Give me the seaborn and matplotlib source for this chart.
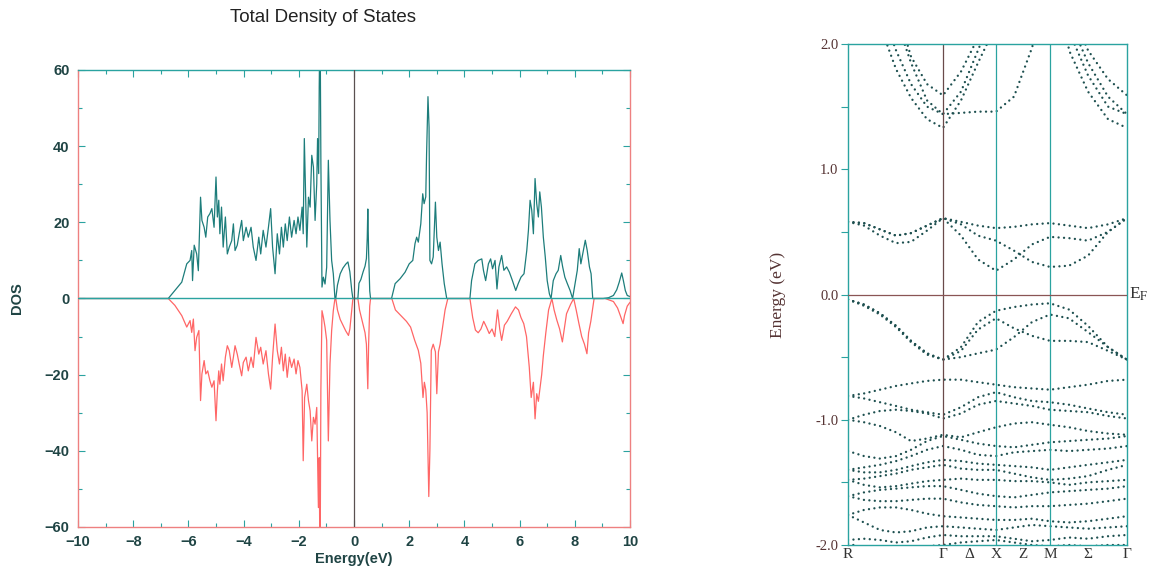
import numpy as np
import pandas as pd
import matplotlib
matplotlib.use("Agg")
import matplotlib.pyplot as plt
import seaborn as sns
from matplotlib.ticker import MultipleLocator, FixedLocator

# ---------------- DOS data (spin up, positive) ----------------
e_up = [-10.0, -6.73, -6.49, -6.24, -6.06, -5.94, -5.88, -5.85, -5.79, -5.70, -5.64, -5.56, -5.51, -5.43,
        -5.37, -5.30, -5.22, -5.15, -5.07, -5.00, -4.95, -4.90, -4.86, -4.80, -4.74, -4.66, -4.59, -4.52,
        -4.43, -4.37, -4.31, -4.23, -4.16, -4.07, -4.01, -3.91, -3.83, -3.73, -3.65, -3.55, -3.45, -3.38,
        -3.29, -3.19, -3.10, -3.02, -2.95, -2.86, -2.78, -2.70, -2.63, -2.56, -2.49, -2.42, -2.34, -2.26,
        -2.17, -2.10, -2.03, -1.96, -1.88, -1.84, -1.80, -1.75, -1.71, -1.65, -1.59, -1.53, -1.47, -1.41,
        -1.35, -1.32, -1.28, -1.26, -1.23, -1.20, -1.16, -1.11, -1.05, -0.99, -0.93, -0.87, -0.81, -0.75,
        -0.69, -0.66, -0.60, -0.50, -0.40, -0.30, -0.22, -0.15, -0.08, -0.04, 0.14, 0.18, 0.25, 0.33,
        0.40, 0.45, 0.48, 0.50, 0.53, 0.57, 0.60, 1.36, 1.49, 1.67, 1.85, 2.00, 2.13, 2.21, 2.27, 2.33,
        2.42, 2.49, 2.54, 2.60, 2.63, 2.68, 2.72, 2.75, 2.81, 2.87, 2.95, 3.00, 3.06, 3.12, 3.19, 3.27,
        3.36, 4.20, 4.26, 4.38, 4.50, 4.63, 4.69, 4.77, 4.87, 4.95, 5.02, 5.11, 5.18, 5.25, 5.35, 5.43,
        5.53, 5.63, 5.74, 5.86, 5.95, 6.05, 6.16, 6.26, 6.32, 6.38, 6.44, 6.50, 6.56, 6.62, 6.68, 6.73,
        6.79, 6.86, 6.93, 7.00, 7.08, 7.14, 7.22, 7.32, 7.40, 7.49, 7.56, 7.64, 7.73, 7.83, 7.92, 8.01,
        8.09, 8.16, 8.22, 8.31, 8.38, 8.45, 8.53, 8.59, 8.65, 9.03, 9.22, 9.40, 9.52, 9.61, 9.70, 9.76,
        9.83, 9.90, 10.0]
dos_up = [0, 0, 2.1, 4.3, 9.1, 10.0, 12.6, 4.7, 14.0, 11.7, 7.3, 26.6, 20.5, 18.7,
          16.1, 21.4, 22.3, 23.6, 18.7, 31.9, 21.4, 25.8, 17.0, 24.0, 13.5, 21.4, 11.7, 13.5,
          15.2, 19.6, 12.6, 14.0, 17.0, 20.5, 15.2, 18.7, 16.1, 18.7, 13.5, 10.0, 16.1, 11.7,
          17.9, 13.5, 18.7, 23.6, 13.5, 6.5, 17.0, 11.7, 18.7, 13.5, 19.6, 15.2, 21.4, 16.1,
          20.5, 17.0, 21.4, 17.9, 24.0, 17.0, 42.0, 25.8, 13.5, 26.6, 24.0, 37.6, 34.5, 20.5,
          30.1, 42.0, 32.8, 55.6, 75.0, 36.0, 3.0, 5.6, 3.8, 8.2, 36.3, 20.5, 10.0, 6.5,
          0, 0, 3.5, 6.5, 8.0, 9.0, 9.6, 7.0, 2.0, 0, 0, 4.0, 5.0, 7.0,
          8.5, 10.5, 16.0, 23.5, 12.0, 2.0, 0, 0, 3.9, 5.2, 6.9, 9.1, 10.0, 14.4, 16.1, 14.8,
          19.6, 27.5, 24.9, 26.7, 38.0, 53.0, 45.0, 10.0, 9.1, 10.9, 25.3, 16.1, 12.6, 14.8, 9.1, 3.9,
          0, 0, 4.7, 9.1, 10.0, 10.4, 7.4, 4.7, 9.1, 10.4, 7.8, 10.0, 2.5, 8.3, 11.3, 7.4,
          8.3, 6.9, 4.7, 2.1, 3.9, 5.6, 6.5, 12.6, 17.9, 25.8, 23.2, 17.0, 31.5, 24.9, 21.4, 28.0,
          24.0, 16.1, 10.9, 4.7, 1.2, 0, 4.7, 6.5, 7.4, 11.3, 8.3, 5.6, 3.9, 2.1, 0, 3.9,
          7.4, 13.1, 9.1, 12.6, 15.3, 12.6, 8.3, 6.5, 0, 0, 0.2, 0.8, 2.3, 4.3, 6.7, 4.7,
          2.1, 0.8, 0.5]

# ---------------- DOS data (spin down, negative) ----------------
e_dn = [-10.0, -6.73, -6.49, -6.24, -6.06, -5.94, -5.88, -5.82, -5.76, -5.70, -5.62, -5.56, -5.51, -5.43,
        -5.37, -5.30, -5.22, -5.15, -5.07, -5.00, -4.95, -4.90, -4.86, -4.80, -4.74, -4.66, -4.59, -4.52,
        -4.43, -4.37, -4.31, -4.23, -4.16, -4.07, -4.01, -3.91, -3.83, -3.73, -3.65, -3.55, -3.45, -3.38,
        -3.29, -3.19, -3.10, -3.02, -2.95, -2.86, -2.78, -2.70, -2.63, -2.56, -2.49, -2.42, -2.34, -2.26,
        -2.17, -2.10, -2.03, -1.96, -1.88, -1.84, -1.79, -1.71, -1.65, -1.59, -1.53, -1.47, -1.41, -1.35,
        -1.29, -1.26, -1.23, -1.20, -1.16, -1.11, -1.05, -0.99, -0.93, -0.87, -0.81, -0.75, -0.69,
        -0.66, -0.60, -0.50, -0.40, -0.30, -0.20, -0.15, -0.08, -0.04, 0.14, 0.20, 0.30, 0.40, 0.45,
        0.50, 0.53, 0.57, 0.60, 1.37, 1.50, 1.70, 1.90, 2.05, 2.20, 2.33, 2.42, 2.50, 2.55, 2.60, 2.65,
        2.71, 2.75, 2.80, 2.87, 2.95, 3.00, 3.06, 3.12, 3.20, 3.30, 3.40, 4.20, 4.30, 4.40, 4.50, 4.60,
        4.70, 4.80, 4.90, 5.00, 5.10, 5.20, 5.28, 5.35, 5.45, 5.55, 5.70, 5.85, 5.96, 6.05, 6.15, 6.25,
        6.35, 6.42, 6.50, 6.56, 6.62, 6.68, 6.73, 6.80, 6.86, 6.95, 7.05, 7.17, 7.25, 7.35, 7.45, 7.55,
        7.62, 7.70, 7.85, 7.96, 8.05, 8.15, 8.25, 8.35, 8.44, 8.50, 8.58, 8.70, 9.10, 9.40, 9.55, 9.65,
        9.75, 9.80, 9.90, 10.0]
dos_dn = [0, 0, -1.8, -4.5, -7.5, -5.8, -8.9, -5.4, -13.7, -10.2, -8.4, -26.8, -19.8, -16.3,
          -19.8, -19.0, -21.6, -23.3, -21.6, -32.1, -24.2, -19.0, -22.5, -17.2, -21.6, -15.4, -12.4, -13.7,
          -18.1, -15.4, -12.4, -14.6, -17.2, -20.3, -16.8, -15.4, -19.0, -15.4, -18.1, -10.2, -14.6, -12.8,
          -17.2, -13.7, -19.8, -23.8, -15.4, -6.7, -13.7, -17.2, -12.8, -19.0, -14.6, -20.7, -15.4, -18.1,
          -15.9, -19.8, -16.3, -18.1, -24.2, -42.6, -26.0, -22.5, -26.8, -29.5, -37.4, -31.2, -33.0, -28.6,
          -54.9, -41.8, -75.0, -24.0, -3.2, -4.9, -7.5, -11.0, -37.4, -17.2, -8.4, -3.2, 0,
          0, -3.0, -5.5, -7.0, -8.5, -9.7, -8.0, -3.0, 0, 0, -3.0, -6.0, -9.0, -12.0,
          -23.7, -12.0, -2.0, 0, 0, -3.0, -4.5, -6.0, -7.5, -11.0, -13.6, -17.0, -26.0, -22.0, -24.0, -30.0,
          -52.0, -40.0, -13.6, -12.0, -14.0, -25.0, -14.0, -12.0, -8.0, -3.0, 0, 0, -5.0, -8.3, -9.0, -8.0,
          -6.0, -7.5, -9.2, -8.0, -10.0, -3.0, -8.0, -11.0, -7.0, -6.0, -4.0, -2.2, -3.0, -5.0, -6.6, -10.0,
          -18.0, -26.0, -22.0, -31.6, -25.0, -27.0, -24.0, -20.0, -15.0, -9.0, -3.0, 0, -3.0, -5.7, -8.0, -11.4,
          -8.0, -4.0, -1.5, 0, -3.0, -6.6, -10.0, -12.0, -14.5, -9.0, -6.0, 0, 0, -0.8, -2.5, -4.5,
          -6.6, -4.5, -2.0, -1.0]

# ---------------- Band structure data ----------------
# k-path: R -> Gamma -> X -> M -> Gamma
k_pts = [0, 16, 32, 48, 63, 79, 95, 113, 130, 148, 166, 184, 202, 221, 240, 260, 279]
k_sym_pos = [0, 95, 121, 148, 175, 202, 240, 279]
k_sym_lab = ["R", "Γ", "Δ", "X", "Z", "M", "Σ", "Γ"]

band_c1 = [2.90, 2.55, 2.15, 1.80, 1.57, 1.40, 1.33, 1.55, 1.85, 2.15, 2.50, 2.80, 3.00, 1.95, 1.62, 1.40, 1.33]
band_c2 = [3.00, 2.65, 2.30, 1.95, 1.68, 1.50, 1.44, 1.45, 1.46, 1.46, 1.58, 1.97, 2.50, 2.10, 1.75, 1.50, 1.44]
band_c3 = [3.10, 2.80, 2.50, 2.20, 1.85, 1.55, 1.44, 1.62, 1.95, 2.30, 2.60, 2.90, 3.10, 2.20, 1.85, 1.58, 1.44]
band_c4 = [3.20, 2.90, 2.60, 2.30, 1.90, 1.68, 1.59, 1.78, 2.05, 2.40, 2.70, 3.00, 3.20, 2.30, 1.95, 1.72, 1.59]
band_m1 = [0.58, 0.55, 0.47, 0.41, 0.42, 0.51, 0.61, 0.47, 0.28, 0.19, 0.28, 0.40, 0.46, 0.45, 0.43, 0.50, 0.61]
band_m2 = [0.58, 0.57, 0.52, 0.47, 0.49, 0.55, 0.61, 0.56, 0.47, 0.43, 0.35, 0.26, 0.22, 0.23, 0.31, 0.50, 0.61]
band_m3 = [0.58, 0.57, 0.52, 0.47, 0.49, 0.55, 0.61, 0.58, 0.55, 0.53, 0.54, 0.56, 0.57, 0.55, 0.53, 0.56, 0.61]
band_v1 = [-0.04, -0.08, -0.15, -0.25, -0.37, -0.47, -0.52, -0.42, -0.22, -0.13, -0.10, -0.08, -0.07, -0.12, -0.25, -0.42, -0.52]
band_v2 = [-0.04, -0.08, -0.15, -0.25, -0.37, -0.47, -0.52, -0.45, -0.28, -0.19, -0.27, -0.33, -0.37, -0.37, -0.38, -0.45, -0.52]
band_v3 = [-0.04, -0.09, -0.16, -0.26, -0.38, -0.48, -0.52, -0.50, -0.47, -0.44, -0.34, -0.22, -0.16, -0.19, -0.30, -0.42, -0.52]
band_l1 = [-0.81, -0.79, -0.76, -0.73, -0.71, -0.69, -0.68, -0.68, -0.70, -0.72, -0.74, -0.75, -0.76, -0.74, -0.72, -0.69, -0.68]
band_l2 = [-0.81, -0.83, -0.86, -0.89, -0.92, -0.94, -0.96, -0.90, -0.82, -0.78, -0.82, -0.85, -0.86, -0.88, -0.91, -0.94, -0.96]
band_l3 = [-1.00, -0.96, -0.93, -0.92, -0.93, -0.95, -0.99, -0.95, -0.88, -0.85, -0.87, -0.89, -0.92, -0.93, -0.94, -0.97, -0.99]
band_l4 = [-1.00, -1.02, -1.05, -1.10, -1.17, -1.15, -1.12, -1.14, -1.10, -1.06, -1.03, -1.02, -1.04, -1.06, -1.09, -1.11, -1.12]
band_l5 = [-1.25, -1.29, -1.31, -1.29, -1.24, -1.17, -1.13, -1.16, -1.19, -1.21, -1.22, -1.20, -1.18, -1.17, -1.16, -1.15, -1.13]
band_l6 = [-1.40, -1.38, -1.36, -1.33, -1.29, -1.24, -1.21, -1.24, -1.28, -1.29, -1.26, -1.25, -1.24, -1.25, -1.24, -1.23, -1.21]
band_l7 = [-1.40, -1.42, -1.42, -1.40, -1.37, -1.34, -1.32, -1.33, -1.35, -1.36, -1.37, -1.38, -1.40, -1.38, -1.36, -1.34, -1.32]
band_l8 = [-1.48, -1.47, -1.45, -1.43, -1.40, -1.38, -1.36, -1.39, -1.40, -1.40, -1.43, -1.46, -1.48, -1.47, -1.45, -1.40, -1.36]
band_l9 = [-1.48, -1.52, -1.54, -1.53, -1.51, -1.49, -1.48, -1.47, -1.48, -1.48, -1.49, -1.49, -1.50, -1.52, -1.50, -1.49, -1.48]
band_l10 = [-1.61, -1.58, -1.56, -1.55, -1.54, -1.53, -1.53, -1.56, -1.59, -1.61, -1.62, -1.60, -1.58, -1.57, -1.56, -1.55, -1.53]
band_l11 = [-1.61, -1.64, -1.65, -1.65, -1.64, -1.63, -1.63, -1.66, -1.68, -1.69, -1.70, -1.69, -1.69, -1.68, -1.67, -1.65, -1.63]
band_l12 = [-1.76, -1.72, -1.70, -1.70, -1.72, -1.75, -1.77, -1.78, -1.79, -1.80, -1.80, -1.79, -1.81, -1.82, -1.81, -1.79, -1.77]
band_l13 = [-1.76, -1.82, -1.88, -1.90, -1.89, -1.86, -1.85, -1.86, -1.87, -1.88, -1.86, -1.84, -1.85, -1.86, -1.87, -1.86, -1.85]
band_l14 = [-1.96, -1.95, -1.96, -1.98, -1.97, -1.94, -1.92, -1.93, -1.93, -1.93, -1.95, -1.97, -1.96, -1.94, -1.95, -1.93, -1.92]
band_l15 = [-1.99, -2.02, -2.05, -2.06, -2.04, -2.01, -2.00, -1.98, -1.97, -1.96, -1.98, -2.00, -2.01, -2.00, -2.01, -2.00, -2.00]

bands = [band_c1, band_c2, band_c3, band_c4, band_m1, band_m2, band_m3,
         band_v1, band_v2, band_v3, band_l1, band_l2, band_l3, band_l4, band_l5,
         band_l6, band_l7, band_l8, band_l9, band_l10, band_l11, band_l12,
         band_l13, band_l14, band_l15]

# ---------------- style ----------------
sns.set_theme(style="ticks")
plt.rcParams["font.family"] = ["Liberation Sans", "DejaVu Sans"]
plt.rcParams["mathtext.fontset"] = "stix"

TEAL = "#2aa3a0"
TEAL_D = "#1d7d7b"
RED = "#ff5555"
SPINE_RED = "#ee8080"
TXT = "#1f4444"
DOT = "#1e5050"
SERIF = ["Liberation Serif", "DejaVu Serif"]

W, H = 1149, 573
fig = plt.figure(figsize=(W / 100, H / 100), dpi=100)
fig.patch.set_facecolor("white")

# ---------------- Left: DOS ----------------
ax1 = fig.add_axes([78 / W, 1 - 527 / H, 552 / W, 457 / H])
df_up = pd.DataFrame({"E": e_up, "DOS": dos_up})
df_dn = pd.DataFrame({"E": e_dn, "DOS": dos_dn})
sns.lineplot(data=df_dn, x="E", y="DOS", ax=ax1, color=RED, lw=0.9, alpha=0.9,
             estimator=None, sort=False)
sns.lineplot(data=df_up, x="E", y="DOS", ax=ax1, color=TEAL_D, lw=0.9,
             estimator=None, sort=False)
ax1.axhline(0, color=TEAL, lw=1.0, zorder=3)
ax1.axvline(0, color="#5a5050", lw=0.9, zorder=3)
ax1.set_xlim(-10, 10)
ax1.set_ylim(-60, 60)
ax1.xaxis.set_major_locator(MultipleLocator(2))
ax1.xaxis.set_minor_locator(MultipleLocator(1))
ax1.yaxis.set_major_locator(MultipleLocator(20))
ax1.yaxis.set_minor_locator(MultipleLocator(10))
ax1.tick_params(which="both", direction="in", top=True, right=True, color=TEAL,
                labelcolor=TXT, labelsize=10.5)
ax1.tick_params(which="major", length=5, width=0.8, pad=6)
ax1.tick_params(which="minor", length=3, width=0.8)
for lab in ax1.get_xticklabels() + ax1.get_yticklabels():
    lab.set_fontweight("bold")
for side in ["left", "bottom", "right"]:
    ax1.spines[side].set_color(SPINE_RED)
    ax1.spines[side].set_linewidth(1.0)
ax1.spines["top"].set_color(TEAL)
ax1.spines["top"].set_linewidth(1.0)
ax1.set_xlabel("Energy(eV)", fontsize=10.5, color=TXT, fontweight="bold")
ax1.set_ylabel("DOS", fontsize=10.5, color=TXT, fontweight="bold")
ax1.xaxis.set_label_coords(0.5, -0.055)
ax1.yaxis.set_label_coords(-0.098, 0.5)
fig.text(323 / W, 1 - 17 / H, "Total Density of States", ha="center", va="center",
         fontsize=13.5, color="#222222")

# ---------------- Right: band structure ----------------
ax2 = fig.add_axes([848 / W, 1 - 545 / H, 279 / W, 501 / H])
rows = []
for i, b in enumerate(bands):
    for k, e in zip(k_pts, b):
        rows.append((i, k, e))
df_b = pd.DataFrame(rows, columns=["band", "k", "E"])
sns.lineplot(data=df_b, x="k", y="E", units="band", estimator=None, ax=ax2,
             color=DOT, lw=1.7, linestyle=(0, (0.01, 2.3)), dash_capstyle="round")
ax2.axhline(0, color="#8a5555", lw=0.9, zorder=3)
ax2.axvline(95, color="#6a4a4a", lw=0.9)
ax2.axvline(148, color=TEAL, lw=0.9)
ax2.axvline(202, color=TEAL, lw=0.9)
ax2.set_xlim(0, 279)
ax2.set_ylim(-2.0, 2.0)
ax2.set_xticks(k_sym_pos)
ax2.set_xticklabels(k_sym_lab, family=SERIF, fontsize=11, color="#333333")
ax2.yaxis.set_major_locator(FixedLocator([-2.0, -1.0, 0.0, 1.0, 2.0]))
ax2.yaxis.set_minor_locator(FixedLocator([-1.5, -0.5, 0.5, 1.5]))
ax2.set_yticklabels(["-2.0", "-1.0", "0.0", "1.0", "2.0"],
                    family=SERIF, fontsize=10.5, color="#553333")
ax2.tick_params(axis="x", length=0, pad=2)
ax2.tick_params(axis="y", which="both", direction="out", length=5, width=0.8, color=TEAL, pad=2)
for side in ax2.spines:
    ax2.spines[side].set_color(TEAL)
    ax2.spines[side].set_linewidth(1.0)
ax2.set_xlabel("")
ax2.set_ylabel("Energy (eV)", family=SERIF, fontsize=12.5, color="#553333")
ax2.yaxis.set_label_coords(-0.222, 0.5)
ax2.text(1.006, 0.0, r"E$_{\rm F}$", transform=ax2.get_yaxis_transform(), ha="left", va="center",
         fontsize=12.5, family=SERIF, color="#333333")

fig.savefig("out.png", dpi=100, facecolor="white")
